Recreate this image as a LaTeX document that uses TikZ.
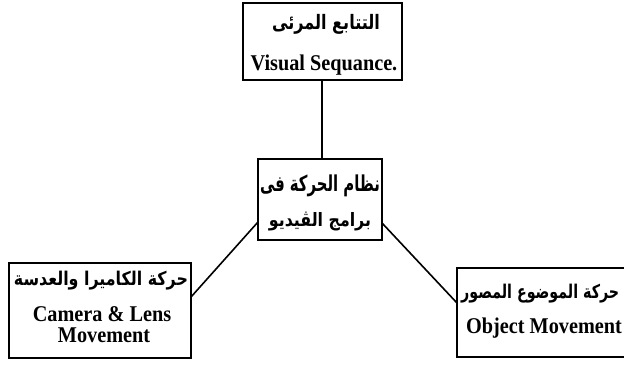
\documentclass[tikz,border=0pt]{standalone}
\usepackage{fontspec}
\setmainfont{Liberation Serif}[FakeStretch=0.9]
\newfontfamily\arabicfont[Script=Arabic]{DejaVu Sans}
\TeXXeTstate=1
\newcommand{\artext}[3]{\resizebox*{#1pt}{#2pt}{\arabicfont\bfseries #3}}
\begin{document}
\begin{tikzpicture}[x=1pt,y=-1pt,
  boxline/.style={line width=2.6pt},
  link/.style={line width=1.6pt},
  ar/.style={inner sep=0pt},
  en/.style={font=\bfseries\fontsize{22.5}{15}\selectfont, inner sep=0pt, anchor=base}]
\useasboundingbox (0,0) rectangle (624,370);
\fill[white] (0,0) rectangle (624,370);
% boxes
\draw[boxline] (243,3) rectangle (402,80);
\coordinate (topbot) at (322,80);
\draw[boxline] (258,159) rectangle (382,240);
\coordinate (ctop) at (322,159);
\coordinate (cleft) at (258,222);
\coordinate (cright) at (382,223);
\draw[boxline] (9,263) rectangle (191,358);
\coordinate (lright) at (191,297);
\draw[boxline] (457,268) rectangle (632,357);
\coordinate (rleft) at (457,303);
% connectors
\draw[link] (topbot) -- (ctop);
\draw[link] (cleft) -- (lright);
\draw[link] (cright) -- (rleft);
% texts
\node[ar] (t1) at (326,24) {\artext{108}{20}{\beginR التتابع المرئى\endR}};
\node[en] (t2) at (324,70) {Visual Sequance.};
\node[ar] (c1) at (320,186) {\artext{120}{22}{\beginR نظام الحركة فى\endR}};
\node[ar] (c2) at (320,221) {\artext{102}{19}{\beginR برامج الڤيديو\endR}};
\node[ar] (l1) at (101,281) {\artext{174}{19}{\beginR حركة الكاميرا والعدسة\endR}};
\node[en] (l2) at (102,321) {Camera \& Lens};
\node[en] (l3) at (104,342) {Movement};
\node[ar, anchor=west] (r1) at (461,294) {\artext{158}{19}{\beginR حركة الموضوع المصور\endR}};
\node[en, anchor=base west] (r2) at (466,333) {Object Movement};
\end{tikzpicture}
\end{document}
